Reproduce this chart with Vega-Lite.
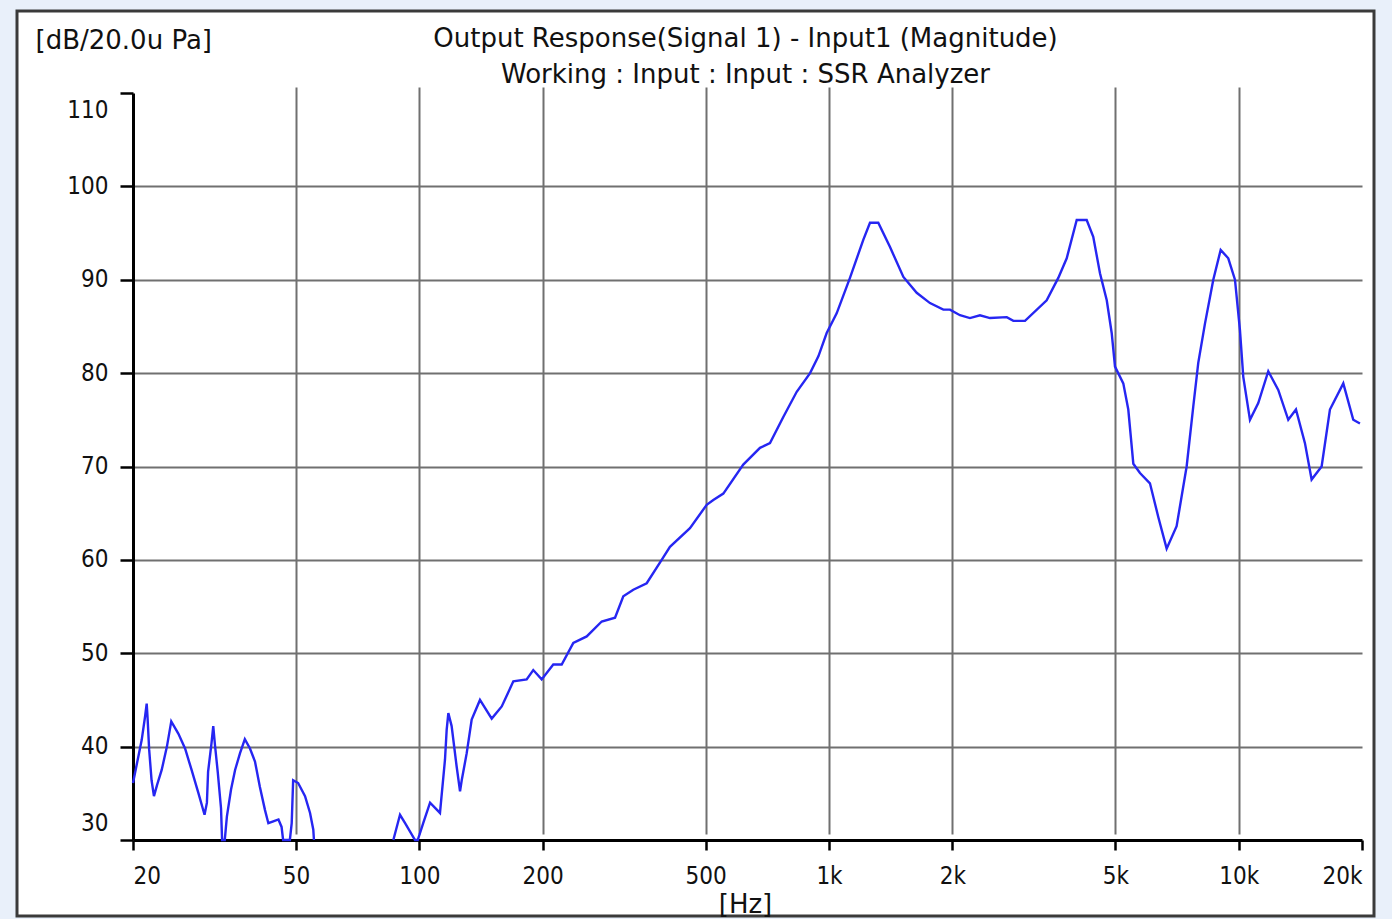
{
  "$schema": "https://vega.github.io/schema/vega-lite/v6.json",
  "width": 1357,
  "height": 905,
  "autosize": {"type": "none"},
  "padding": {"left": 17, "top": 11, "right": 18, "bottom": 3},
  "background": "#e9f0fa",
  "config": {
    "view": {"fill": "white", "stroke": "#3a3a3a", "strokeWidth": 3},
    "font": "DejaVu Sans Condensed"
  },
  "title": {
    "text": ["Output Response(Signal 1) - Input1 (Magnitude)", "Working : Input : Input : SSR Analyzer"],
    "anchor": "middle",
    "frame": "group",
    "baseline": "top",
    "offset": -77,
    "dx": 50,
    "fontSize": 26,
    "fontWeight": "normal",
    "lineHeight": 36,
    "color": "#111111",
    "font": "DejaVu Sans"
  },
  "data": {
    "values": [
      {"f": 20.0, "db": 36.1}, {"f": 20.6, "db": 38.9}, {"f": 21.0, "db": 40.7}, {"f": 21.4, "db": 43.2},
      {"f": 21.6, "db": 44.6}, {"f": 21.7, "db": 43.2}, {"f": 21.9, "db": 39.7}, {"f": 22.2, "db": 36.4},
      {"f": 22.5, "db": 34.7}, {"f": 22.9, "db": 35.9}, {"f": 23.5, "db": 37.5}, {"f": 24.2, "db": 40.0},
      {"f": 24.8, "db": 42.7}, {"f": 25.8, "db": 41.4}, {"f": 26.8, "db": 39.8}, {"f": 27.8, "db": 37.5},
      {"f": 28.9, "db": 35.0}, {"f": 29.9, "db": 32.7}, {"f": 30.3, "db": 34.0}, {"f": 30.5, "db": 37.3},
      {"f": 31.1, "db": 40.4}, {"f": 31.4, "db": 42.2}, {"f": 31.7, "db": 40.2}, {"f": 32.2, "db": 37.3},
      {"f": 32.8, "db": 33.4}, {"f": 33.0, "db": 30.0}, {"f": 33.5, "db": 30.0}, {"f": 33.9, "db": 32.5},
      {"f": 34.7, "db": 35.4}, {"f": 35.5, "db": 37.5}, {"f": 36.5, "db": 39.3}, {"f": 37.5, "db": 40.8},
      {"f": 38.6, "db": 39.8}, {"f": 39.7, "db": 38.4}, {"f": 40.8, "db": 35.7}, {"f": 42.0, "db": 33.2},
      {"f": 42.8, "db": 31.8}, {"f": 44.0, "db": 32.0}, {"f": 45.3, "db": 32.2}, {"f": 46.1, "db": 31.4},
      {"f": 46.5, "db": 30.0}, {"f": 48.3, "db": 30.0}, {"f": 48.8, "db": 31.8}, {"f": 49.2, "db": 36.4},
      {"f": 50.6, "db": 36.1}, {"f": 52.6, "db": 34.7}, {"f": 54.1, "db": 32.9}, {"f": 55.1, "db": 31.1},
      {"f": 55.3, "db": 30.0}, {"f": 70.0, "db": null},
      {"f": 86.4, "db": 30.0}, {"f": 89.7, "db": 32.7}, {"f": 92.3, "db": 31.8}, {"f": 97.6, "db": 30.0},
      {"f": 99.1, "db": 30.0}, {"f": 102.2, "db": 31.8}, {"f": 106.2, "db": 34.0}, {"f": 112.3, "db": 32.9},
      {"f": 115.5, "db": 38.6}, {"f": 116.6, "db": 41.8}, {"f": 117.7, "db": 43.6}, {"f": 119.9, "db": 42.2},
      {"f": 123.3, "db": 37.9}, {"f": 125.7, "db": 35.2}, {"f": 126.9, "db": 36.4}, {"f": 130.5, "db": 39.3},
      {"f": 134.2, "db": 42.9}, {"f": 140.6, "db": 45.0}, {"f": 150.2, "db": 43.0}, {"f": 158.9, "db": 44.3},
      {"f": 169.6, "db": 47.0}, {"f": 182.8, "db": 47.2}, {"f": 189.7, "db": 48.2}, {"f": 198.9, "db": 47.2},
      {"f": 212.3, "db": 48.8}, {"f": 222.6, "db": 48.8}, {"f": 237.6, "db": 51.1}, {"f": 256.2, "db": 51.8},
      {"f": 278.7, "db": 53.4}, {"f": 300.4, "db": 53.8}, {"f": 314.7, "db": 56.1}, {"f": 332.9, "db": 56.8},
      {"f": 358.9, "db": 57.5}, {"f": 390.4, "db": 60.0}, {"f": 409.0, "db": 61.4}, {"f": 457.7, "db": 63.4},
      {"f": 502.9, "db": 65.9}, {"f": 521.9, "db": 66.4}, {"f": 552.1, "db": 67.1}, {"f": 617.6, "db": 70.2},
      {"f": 678.5, "db": 72.0}, {"f": 717.7, "db": 72.5}, {"f": 773.4, "db": 75.3}, {"f": 834, "db": 78.0},
      {"f": 899, "db": 80.0}, {"f": 942, "db": 81.8}, {"f": 987, "db": 84.3}, {"f": 1044, "db": 86.4},
      {"f": 1125, "db": 90.2}, {"f": 1213, "db": 94.3}, {"f": 1259, "db": 96.1}, {"f": 1319, "db": 96.1},
      {"f": 1409, "db": 93.5}, {"f": 1519, "db": 90.3}, {"f": 1637, "db": 88.6}, {"f": 1764, "db": 87.5},
      {"f": 1901, "db": 86.8}, {"f": 1974, "db": 86.8}, {"f": 2088, "db": 86.2}, {"f": 2208, "db": 85.9},
      {"f": 2336, "db": 86.2}, {"f": 2472, "db": 85.9}, {"f": 2716, "db": 86.0}, {"f": 2818, "db": 85.6},
      {"f": 3009, "db": 85.6}, {"f": 3399, "db": 87.8}, {"f": 3628, "db": 90.2}, {"f": 3804, "db": 92.3},
      {"f": 4024, "db": 96.4}, {"f": 4256, "db": 96.4}, {"f": 4416, "db": 94.6}, {"f": 4586, "db": 90.7},
      {"f": 4764, "db": 87.8}, {"f": 4898, "db": 84.3}, {"f": 4990, "db": 80.7}, {"f": 5228, "db": 78.9},
      {"f": 5377, "db": 76.1}, {"f": 5531, "db": 70.3}, {"f": 5742, "db": 69.3}, {"f": 6073, "db": 68.2},
      {"f": 6364, "db": 64.6}, {"f": 6671, "db": 61.2}, {"f": 7055, "db": 63.6}, {"f": 7464, "db": 70.0},
      {"f": 7747, "db": 76.4}, {"f": 7968, "db": 81.1}, {"f": 8274, "db": 85.3}, {"f": 8670, "db": 90.0},
      {"f": 9038, "db": 93.2}, {"f": 9432, "db": 92.3}, {"f": 9794, "db": 90.0}, {"f": 10072, "db": 84.6},
      {"f": 10262, "db": 79.6}, {"f": 10655, "db": 75.0}, {"f": 11164, "db": 76.8}, {"f": 11810, "db": 80.2},
      {"f": 12492, "db": 78.2}, {"f": 13214, "db": 75.0}, {"f": 13799, "db": 76.1}, {"f": 14513, "db": 72.5},
      {"f": 15068, "db": 68.6}, {"f": 15940, "db": 70.0}, {"f": 16702, "db": 76.1}, {"f": 18004, "db": 78.9},
      {"f": 19041, "db": 75.0}, {"f": 19770, "db": 74.6}
    ]
  },
  "mark": {"type": "line", "color": "#2626f2", "strokeWidth": 2.4, "invalid": "break-paths-filter-domains"},
  "encoding": {
    "x": {
      "field": "f",
      "type": "quantitative",
      "scale": {"type": "log", "domain": [20, 20000], "range": [116, 1345]},
      "axis": {
        "values": [20, 50, 100, 200, 500, 1000, 2000, 5000, 10000, 20000],
        "labelExpr": "datum.value >= 1000 ? (datum.value / 1000) + 'k' : '' + datum.value",
        "offset": -76,
        "grid": true,
        "gridColor": "#707070",
        "gridWidth": 2,
        "gridOpacity": {"condition": {"test": "datum.value <= 20 || datum.value >= 20000", "value": 0}, "value": 1},
        "domainColor": "#000000",
        "domainWidth": 3,
        "tickColor": "#000000",
        "tickWidth": 2.5,
        "tickSize": 10,
        "labelFontSize": 24,
        "labelColor": "#111111",
        "labelPadding": 14,
        "labelFlush": true,
        "labelFlushOffset": 0,
        "labelOverlap": false,
        "title": "[Hz]",
        "titleX": 728,
        "titleY": 64,
        "titleAlign": "center",
        "titleBaseline": "middle",
        "titleFont": "DejaVu Sans",
        "titleFontSize": 26,
        "titleFontWeight": "normal",
        "titleColor": "#111111"
      }
    },
    "y": {
      "field": "db",
      "type": "quantitative",
      "scale": {"domain": [30, 110], "range": [829, 82]},
      "axis": {
        "values": [30, 40, 50, 60, 70, 80, 90, 100, 110],
        "offset": -116,
        "grid": true,
        "gridColor": "#707070",
        "gridWidth": 2,
        "gridOpacity": {"condition": {"test": "datum.value >= 110 || datum.value <= 30", "value": 0}, "value": 1},
        "domainColor": "#000000",
        "domainWidth": 3,
        "tickColor": "#000000",
        "tickWidth": 2.5,
        "tickSize": 13,
        "labelFontSize": 24,
        "labelColor": "#111111",
        "labelPadding": 12,
        "labelFlush": true,
        "labelFlushOffset": -5,
        "labelOverlap": false,
        "title": "[dB/20.0u Pa]",
        "titleAngle": 0,
        "titleX": -98,
        "titleY": 29,
        "titleAlign": "left",
        "titleBaseline": "middle",
        "titleFont": "DejaVu Sans",
        "titleFontSize": 26,
        "titleFontWeight": "normal",
        "titleColor": "#111111"
      }
    }
  }
}
